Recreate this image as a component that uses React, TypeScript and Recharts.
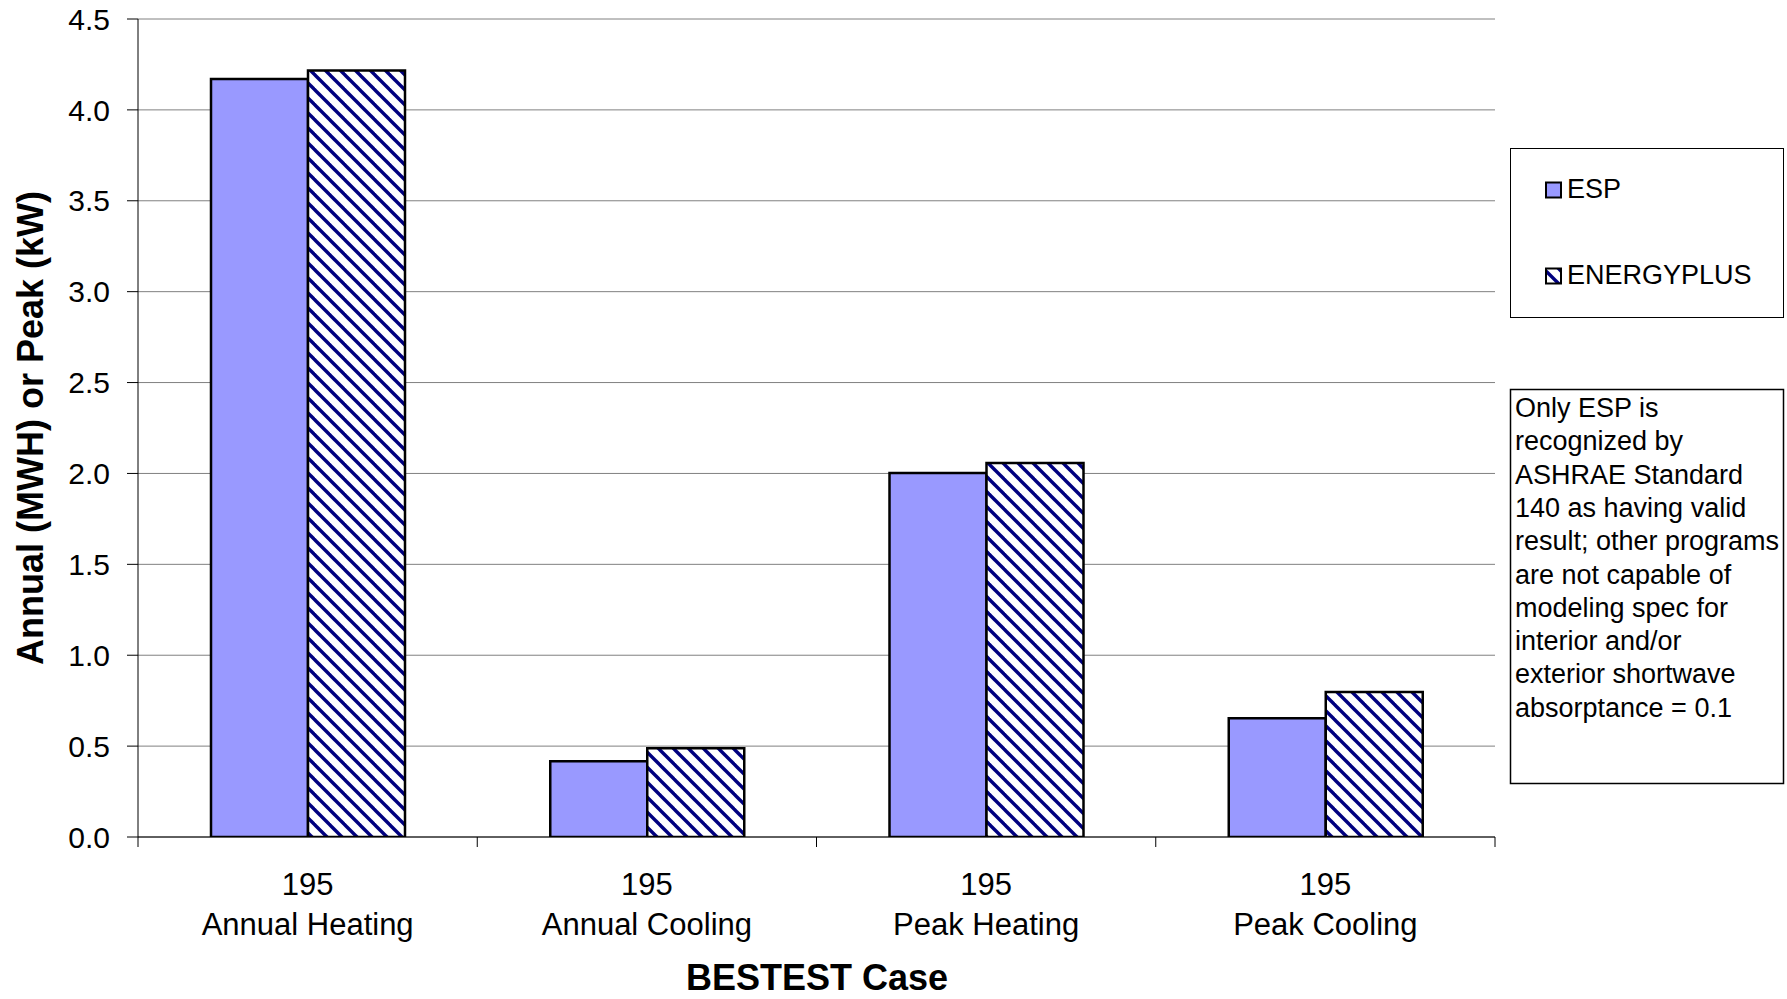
import React from 'react';
import { BarChart, Bar, XAxis, YAxis, CartesianGrid } from 'recharts';

const caseNumbers = ['195', '195', '195', '195'];
const categories = ['Annual Heating', 'Annual Cooling', 'Peak Heating', 'Peak Cooling'];
const espValues = [4.17, 0.417, 2.003, 0.653];
const energyPlusValues = [4.216, 0.488, 2.057, 0.798];
const yTicks = [0, 0.5, 1.0, 1.5, 2.0, 2.5, 3.0, 3.5, 4.0, 4.5];
const seriesNames = ['ESP', 'ENERGYPLUS'];
const noteLines = [
  'Only ESP is',
  'recognized by',
  'ASHRAE Standard',
  '140 as having valid',
  'result; other programs',
  'are not capable of',
  'modeling spec for',
  'interior and/or',
  'exterior shortwave',
  'absorptance = 0.1',
];
const xTitle = 'BESTEST Case';
const yTitle = 'Annual (MWH) or Peak (kW)';

const data = categories.map((c, i) => ({
  name: c,
  caseNo: caseNumbers[i],
  esp: espValues[i],
  ep: energyPlusValues[i],
}));

const FONT = '"Liberation Sans", Arial, Helvetica, sans-serif';
const W = 1787;
const H = 999;
const PLOT_LEFT = 138;
const MARGIN_RIGHT = 292;
const PLOT_W = W - MARGIN_RIGHT - PLOT_LEFT;
const BAND = PLOT_W / categories.length;
const P = 15;

const CatTick = (props: any) => {
  const { x, y, payload, index } = props;
  const d = data[index] || { caseNo: '' };
  const left = x - BAND / 2;
  const right = x + BAND / 2;
  return (
    <g>
      <line x1={left} y1={y} x2={left} y2={y + 10} stroke="#000" strokeWidth={1} />
      {index === categories.length - 1 && (
        <line x1={right} y1={y} x2={right} y2={y + 10} stroke="#000" strokeWidth={1} />
      )}
      <text x={x} y={y + 58} textAnchor="middle" fontSize={31} fontFamily={FONT} fill="#000">
        {d.caseNo}
      </text>
      <text x={x} y={y + 98} textAnchor="middle" fontSize={31} fontFamily={FONT} fill="#000">
        {payload.value}
      </text>
    </g>
  );
};

export default function App() {
  return (
    <div style={{ position: 'absolute', left: 0, top: 0, width: W, height: H, background: '#fff' }}>
      <svg width={0} height={0} style={{ position: 'absolute' }}>
        <defs>
          <pattern id="hatch" patternUnits="userSpaceOnUse" width={P} height={P}>
            <rect x={0} y={0} width={P} height={P} fill="#fff" />
            <line x1={-P / 2} y1={-P / 2} x2={P * 1.5} y2={P * 1.5} stroke="#000080" strokeWidth={3.4} />
            <line x1={-P / 2} y1={P / 2} x2={P / 2} y2={P * 1.5} stroke="#000080" strokeWidth={3.4} />
            <line x1={P / 2} y1={-P / 2} x2={P * 1.5} y2={P / 2} stroke="#000080" strokeWidth={3.4} />
          </pattern>
        </defs>
      </svg>
      <BarChart
        width={W}
        height={H}
        data={data}
        margin={{ top: 19, right: MARGIN_RIGHT, bottom: 0, left: 0 }}
        barGap={0}
        barSize={97}
      >
        <CartesianGrid vertical={false} stroke="#808080" strokeWidth={1} />
        <YAxis
          domain={[0, 4.5]}
          ticks={yTicks}
          interval={0}
          allowDataOverflow
          tickFormatter={(v: number) => v.toFixed(1)}
          width={PLOT_LEFT}
          tickSize={11}
          tickMargin={17}
          axisLine={{ stroke: '#000', strokeWidth: 1 }}
          tickLine={{ stroke: '#000', strokeWidth: 1 }}
          tick={{ fill: '#000', fontSize: 30, fontFamily: FONT }}
        />
        <YAxis
          yAxisId="right"
          orientation="right"
          domain={[0, 4.5]}
          width={0}
          tick={false}
          tickLine={false}
          axisLine={{ stroke: '#808080', strokeWidth: 1 }}
        />
        <XAxis
          dataKey="name"
          height={162}
          interval={0}
          tickLine={false}
          tickSize={0}
          tickMargin={0}
          axisLine={{ stroke: '#000', strokeWidth: 1 }}
          tick={<CatTick />}
        />
        <Bar dataKey="esp" name={seriesNames[0]} fill="#9999FF" stroke="#000" strokeWidth={2.5} isAnimationActive={false} />
        <Bar dataKey="ep" name={seriesNames[1]} fill="url(#hatch)" stroke="#000" strokeWidth={2.5} isAnimationActive={false} />
      </BarChart>
      <svg
        width={W}
        height={H}
        style={{ position: 'absolute', left: 0, top: 0, pointerEvents: 'none' }}
      >
        <text
          x={43}
          y={428}
          transform="rotate(-90, 43, 428)"
          textAnchor="middle"
          fontSize={36}
          fontWeight="bold"
          fontFamily={FONT}
          fill="#000"
        >
          {yTitle}
        </text>
        <text x={817} y={990} textAnchor="middle" fontSize={36} fontWeight="bold" fontFamily={FONT} fill="#000">
          {xTitle}
        </text>
        {/* legend */}
        <rect x={1510.5} y={148.5} width={273} height={169} fill="#fff" stroke="#000" strokeWidth={1} />
        <rect x={1546} y={182.5} width={15} height={15} fill="#9999FF" stroke="#000" strokeWidth={2} />
        <text x={1567} y={198} fontSize={27} fontFamily={FONT} fill="#000">
          {seriesNames[0]}
        </text>
        <rect x={1546} y={268.5} width={15} height={15} fill="url(#hatch)" stroke="#000" strokeWidth={2} />
        <text x={1567} y={284} fontSize={27} fontFamily={FONT} fill="#000">
          {seriesNames[1]}
        </text>
        {/* note */}
        <rect x={1510.5} y={389.5} width={273} height={394} fill="#fff" stroke="#000" strokeWidth={1.5} />
        {noteLines.map((line, i) => (
          <text key={i} x={1515} y={417 + i * 33.3} fontSize={27} fontFamily={FONT} fill="#000">
            {line}
          </text>
        ))}
      </svg>
    </div>
  );
}
